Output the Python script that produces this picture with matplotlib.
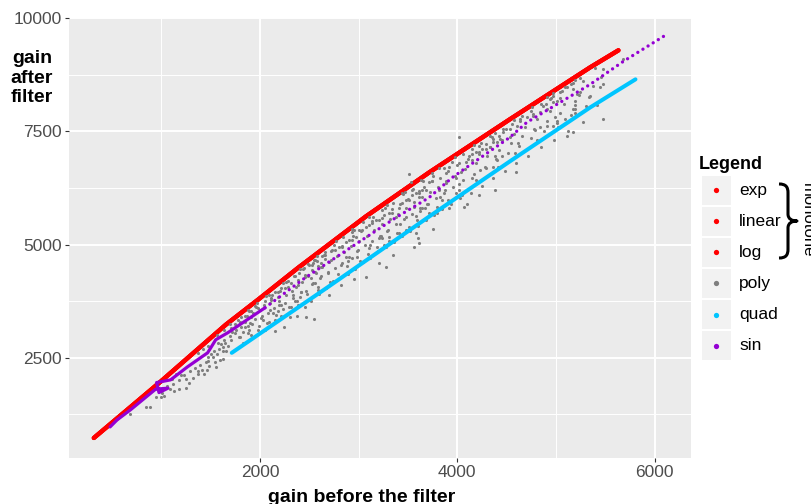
import matplotlib
matplotlib.use("Agg")
import matplotlib.pyplot as plt
from matplotlib.path import Path
from matplotlib.patches import PathPatch, Rectangle

plt.rcParams["font.family"] = ["Liberation Sans", "DejaVu Sans"]

# ---- data -------------------------------------------------------------
series_names = ["exp", "linear", "log", "poly", "quad", "sin"]
series_colors = ["#FF0000", "#FF0000", "#FF0000", "#7F7F7F", "#00C5FF", "#9400D3"]

mono_x = [316, 990, 1653, 1980, 2388, 3071, 3714, 4531, 5347, 5633]
exp_y = [730, 1969, 3230, 3783, 4490, 5618, 6592, 7764, 8914, 9290]
linear_y = [730, 1969, 3230, 3783, 4490, 5618, 6592, 7764, 8914, 9290]
log_y = [730, 1969, 3230, 3783, 4490, 5618, 6592, 7764, 8914, 9290]

quad_x = [1714, 2694, 3714, 4531, 5347, 5806]
quad_y = [2610, 4070, 5618, 6835, 8029, 8649]

sin_x = [480, 551, 686, 942, 1068, 976, 952, 1094, 1265, 1469, 1520, 1551, 1673, 2051,
         2459, 3071, 3378, 3714, 3949, 4092, 4531, 4704, 5347, 5684, 6092]
sin_y = [973, 1128, 1349, 1807, 1829, 1732, 1953, 2013, 2300, 2610, 2787, 2898, 3053, 3605,
         4269, 5154, 5596, 6039, 6481, 6702, 7366, 7698, 8538, 9047, 9600]
sin_dense_until = 2051

poly_x = [684, 847, 888, 949, 1000, 1092, 1133, 1184, 1255, 1276, 1255, 1204, 1153, 1112,
          1367, 1367, 1429, 1459, 1469, 1541, 1551, 1592, 1622, 1622, 1653, 1622, 1469, 1520,
          1367, 1418, 1469, 1031,
          2490, 2541, 2622, 2571, 2520, 2459, 2388, 2418, 2337, 2286, 2214, 2184, 2112, 2102,
          2255, 2316, 2388, 2459, 2469, 2551, 2245, 1959, 1908, 1847, 1806, 1745, 1704, 1643,
          1571, 1878, 1827, 2031, 2051, 1980, 2153,
          1639, 1775, 1911, 2047, 2183, 2319, 2455, 2591, 1707, 1843, 1979, 2115, 2251, 2387,
          2523, 2659, 1877, 1911, 2217, 2183, 2557, 2591,
          3510, 3612, 3673, 3561, 3510, 3439, 3408, 3378, 3306, 3235, 3204, 3133, 3071, 3000,
          2969, 2929, 2898, 2827, 2765, 2724, 2663, 2622, 2561, 2867, 2980, 3102, 3204, 3276,
          3071, 3204, 3306, 3408, 3480, 3582, 3612, 3561, 3102, 3255,
          2523, 2727, 2931, 3135, 3339, 3543, 2625, 2829, 3033, 3237, 3441, 3645, 2897, 3237,
          3577,
          4020, 4327, 4398, 4296, 4224, 4122, 4092, 4041, 3990, 3918, 3888, 3816, 3745, 3714,
          3684, 3612, 3541, 3531, 3643, 3796, 3918, 3847, 4051, 4224, 4378, 4153, 4296, 4398,
          4020, 4071,
          3475, 3611, 3747, 3883, 4018, 4154, 4290, 4427,
          5173, 5276, 5245, 5112, 5041, 5010, 4939, 4867, 4837, 4765, 4704, 4633, 4602, 4531,
          4531, 4459, 4429, 4357, 4327, 4255, 4194, 4153, 4837, 5010, 5112, 5194, 4449, 4357,
          4223, 4359, 4495, 4631, 4767, 4903, 5039, 5175,
          5684, 5480, 5449, 5480, 5347, 5214, 5194, 5092, 4969, 4908, 4969, 4908, 5480, 5173,
          5092, 4969, 5173, 4908,
          1010, 1060, 1120, 1180, 1230, 1290, 1320, 1340, 1390, 1410, 1450, 1480, 1500, 1530,
          1560, 1580, 1600, 1640, 1680, 1700, 1720, 1760, 1790, 1800, 1850, 1870, 1900, 1930,
          1950, 1970, 2000, 2020, 2040, 2070, 2080, 2100, 2120, 2140, 2160, 2190, 2200, 2230,
          2260, 2280, 2300, 2320, 2340, 2350, 2370, 2400, 2410, 2430, 2450, 2470, 2490, 2500,
          2520, 2540, 2560, 2580, 2600, 2610, 2630, 2650, 2670, 2690, 2700, 2720, 2740, 2760,
          2780, 2800, 2820, 2830, 2850, 2870, 2890, 2900, 2920, 2940, 2960, 2980, 3000, 3020,
          3040, 3060, 3080, 3100, 3120, 3140, 3160, 3180, 3200, 3220, 3240, 3260, 3280, 3300,
          3320, 3340, 3360, 3380, 3400, 3420, 3440, 3460, 3480, 3500, 3520, 3540, 3560, 3580,
          3600, 3620, 3640, 3660, 3680, 3700, 3720, 3740, 3760, 3780, 3800, 3820, 3850, 3870,
          3890, 3910, 3940, 3960, 3980, 4000, 4030, 4060, 4080, 4110, 4140, 4170, 4190, 4220,
          4250, 4280, 4300, 4330, 4360, 4390, 4420, 4450, 4480, 4510, 4540, 4570, 4600, 4630,
          4660, 4690, 4720, 4750, 4780, 4810, 4850, 4880, 4910, 4940, 4980, 5010, 5040, 5080,
          5120, 5150, 5190, 5230, 5270, 5300, 5340, 5380, 5420, 5460,
          1750, 1950, 2150, 2350, 2550, 2750, 2950, 3150, 3350, 3550, 3750, 3950, 4150, 4350,
          4550, 4750, 4950, 5150, 1812, 1893, 2096, 2262, 2437, 2655, 2843, 3047, 3263, 3447,
          3652, 3861, 4057, 4243, 4462, 4658, 4849, 5063, 5247,
          1800, 1830, 1890, 1920, 1985, 2010, 2090, 2130, 2210, 2190, 2290, 2330, 2380, 2420,
          2480, 2530, 2590, 2620, 2710, 2690, 2790, 2820, 2880, 2930, 3010, 2990, 3090, 3120,
          3190, 3230, 3310, 3290, 3390, 3420, 3510, 3480, 3590, 3620, 3710, 3690, 3790, 3820,
          3910, 3880, 3990, 4020, 4190, 4230, 4410, 4380, 4590, 4620, 4810, 4790, 5020, 4990,
          5190,
          2150, 2380, 2700, 2950, 3350, 3750, 4100, 4600, 3600,
          1560, 1700, 1880, 2060, 2230, 2410, 2580, 2770, 2930, 3110, 3290, 3470, 3630, 3810,
          3980, 4170, 4380, 4570, 4760, 4970, 5190, 5400]
poly_y = [1261, 1416, 1416, 1637, 1637, 1814, 1770, 1814, 1836, 1947, 2035, 2124, 2146, 2035,
          2212, 2146, 2146, 2234, 2433, 2411, 2300, 2455, 2477, 2654, 2654, 2743, 2522, 2522,
          2600, 2690, 2760, 1659,
          4580, 4601, 4512, 4380, 4269, 4291, 4114, 3959, 3893, 4070, 4048, 3849, 3783, 3561,
          3716, 3628, 3672, 3628, 3406, 3362, 3185, 3628, 3406, 3296, 3185, 3053, 2898, 2831,
          2831, 3053, 2831, 3340, 3119, 3119, 3340,
          3119, 3340, 3524, 3745, 3944, 4152, 4336, 4535, 3157, 3413, 3599, 3820, 4041, 4225,
          4446, 4683, 3192, 3008, 3672, 3524, 4152, 4004,
          6548, 6149, 5817, 5840, 5995, 6149, 5817, 5618, 5707, 5773, 5552, 5486, 5397, 5331,
          5176, 5287, 5110, 4955, 4889, 4667, 4778, 4601, 4667, 4734, 4734, 4712, 4601, 4512,
          4291, 5154, 5176, 5264, 5331, 5264, 5043, 4955, 4933, 4999,
          4557, 4889, 5110, 5515, 5700, 6105, 4741, 4962, 5331, 5590, 5922, 6216, 4630, 5147,
          5625,
          7366, 7388, 7255, 7100, 7034, 6946, 6813, 6614, 6481, 6724, 6371, 6216, 6592, 6393,
          6216, 6061, 6216, 6393, 5817, 5707, 5817, 5995, 6105, 6105, 6216, 6481, 6702, 6879,
          6216, 5840,
          5995, 6178, 6399, 6585, 6806, 6990, 7211, 7395,
          8560, 8605, 8361, 8472, 8361, 8162, 8206, 8052, 7919, 7830, 7808, 7764, 7609, 7543,
          7366, 7477, 7321, 7255, 7145, 7100, 7034, 6879, 7587, 7720, 7388, 7985, 6946, 6724,
          7174, 7322, 7543, 7727, 7875, 8096, 8244, 8428,
          9091, 8870, 8472, 8538, 8273, 8317, 8162, 8472, 8273, 8250, 8140, 7985, 7764, 7985,
          7764, 7609, 7477, 7609,
          1720, 1880, 1930, 2010, 2120, 2200, 2050, 2280, 2350, 2230, 2400, 2310, 2590, 2650,
          2580, 2700, 2800, 2900, 2760, 2980, 3080, 3120, 2950, 3300, 3180, 3420, 3260, 3500,
          3360, 3700, 3550, 3420, 3660, 3270, 3500, 3720, 3880, 3610, 3450, 3760, 3980, 3570,
          3880, 4200, 3400, 3980, 4310, 3760, 4060, 4380, 3850, 4180, 4480, 3980, 4300, 4560,
          3760, 4150, 4400, 4640, 3900, 4260, 4500, 4760, 4050, 4380, 4620, 4860, 4200, 4480,
          4740, 4950, 4100, 4600, 4830, 5060, 4350, 4720, 4960, 5180, 4450, 4850, 5080, 5300,
          4620, 4980, 5200, 5440, 4700, 5080, 5330, 5540, 4850, 5200, 5450, 5660, 4950, 5330,
          5560, 5780, 5050, 5450, 5680, 5900, 5180, 5560, 5800, 6010, 5300, 5680, 5930, 6140,
          5420, 5800, 6040, 6280, 5550, 5900, 6160, 6400, 5650, 6020, 6280, 6480, 5780, 6150,
          6400, 6620, 5900, 6280, 6520, 6750, 6020, 6420, 6660, 6880, 6150, 6560, 6800, 7000,
          6300, 6720, 6950, 7150, 6480, 6880, 7080, 7300, 6620, 7020, 7240, 7450, 6800, 7180,
          7400, 7600, 6950, 7350, 7560, 7780, 7150, 7500, 7720, 7950, 7300, 7680, 7900, 8100,
          7500, 7860, 8080, 8300, 7700, 8050, 8260, 8500, 8080, 8700,
          3250, 3640, 3960, 4300, 4650, 4980, 5320, 5620, 5920, 6230, 6520, 6830, 7100, 7380,
          7660, 7950, 8240, 8540, 3390, 3530, 3890, 4170, 4470, 4840, 5170, 5500, 5800, 6110,
          6400, 6700, 6990, 7250, 7560, 7850, 8110, 8400, 8680,
          2950, 3060, 3110, 3250, 3200, 3380, 3300, 3500, 3420, 3660, 3620, 3810, 3750, 3950,
          3900, 4120, 4060, 4300, 4180, 4400, 4350, 4560, 4520, 4700, 4640, 4880, 4800, 5000,
          4950, 5180, 5090, 5300, 5250, 5450, 5380, 5600, 5550, 5750, 5690, 5900, 5840, 6050,
          5990, 6200, 6150, 6330, 6420, 6650, 6720, 6950, 7030, 7250, 7310, 7520, 7600, 7820,
          7900,
          3100, 3420, 3880, 4250, 4780, 5350, 5900, 6600, 5150,
          3000, 3240, 3560, 3860, 4150, 4470, 4740, 5080, 5340, 5610, 5880, 6160, 6420, 6690,
          6930, 7200, 7460, 7760, 8030, 8350, 8640, 8900]

x_major = [2000, 4000, 6000]
x_minor = [1000, 3000, 5000]
y_major = [2500, 5000, 7500, 10000]
y_minor = [1250, 3750, 6250, 8750]

# ---- figure -----------------------------------------------------------
W, H = 811, 504
fig = plt.figure(figsize=(W / 100, H / 100), dpi=100)
ax = fig.add_axes([69 / W, (H - 458) / H, (691 - 69) / W, (458 - 18) / H])
ax.set_facecolor("#EBEBEB")
ax.set_xlim(64, 6369)
ax.set_ylim(287, 10004)
ax.set_xticks(x_major)
ax.set_xticks(x_minor, minor=True)
ax.set_yticks(y_major)
ax.set_yticks(y_minor, minor=True)
ax.grid(which="major", color="white", lw=1.4)
ax.grid(which="minor", color="white", lw=0.7)
ax.set_axisbelow(True)
for s in ax.spines.values():
    s.set_visible(False)
ax.tick_params(which="major", length=2.6, width=0.8, color="#333333",
               labelcolor="#4D4D4D", labelsize=12.5, pad=2.5)
ax.tick_params(which="minor", length=0)

red = series_colors[0]
for ys in (exp_y, linear_y, log_y):
    ax.plot(mono_x, ys, color=red, lw=3.1, solid_capstyle="round", solid_joinstyle="round", zorder=3)
ax.scatter(poly_x, poly_y, s=5, color=series_colors[3], linewidths=0, zorder=4)
ax.plot(quad_x, quad_y, color=series_colors[4], lw=2.9, solid_capstyle="round",
        solid_joinstyle="round", zorder=5)

k = sin_x.index(sin_dense_until) + 1
ax.plot(sin_x[k - 1:], sin_y[k - 1:], color=series_colors[5], lw=2.4,
        linestyle=(0, (0.01, 1.8)), dash_capstyle="round", zorder=6)
ax.plot(sin_x[:k], sin_y[:k], color=series_colors[5], lw=2.3,
        solid_capstyle="round", solid_joinstyle="round", zorder=6)

# ---- annotation layer in pixel units -----------------------------------
ov = fig.add_axes([0, 0, 1, 1], zorder=5)
ov.set_xlim(0, W)
ov.set_ylim(H, 0)
ov.axis("off")

ov.text(361.5, 502.5, "gain before the filter", ha="center", va="baseline",
        fontsize=14, fontweight="bold")
for txt, yb in zip(["gain", "after", "filter"], [63.3, 82.7, 101.7]):
    ov.text(32, yb, txt, ha="center", va="baseline", fontsize=14, fontweight="bold")

ov.text(699, 169, "Legend", ha="left", va="baseline", fontsize=13, fontweight="bold")
for i, (name, col) in enumerate(zip(series_names, series_colors)):
    cy = 190.1 + 31.1 * i
    ov.add_patch(Rectangle((701.5, cy - 14.6), 29.2, 29.2, color="#F2F2F2", lw=0))
    ov.plot([716], [cy], "o", ms=3.8, color=col, mec="none")
    ov.text(739, cy, name, ha="left", va="center", fontsize=12.5)

verts = [(779, 184), (786, 184), (788, 187), (788, 193),
         (788, 214),
         (788, 219), (792, 221), (797, 221),
         (792, 221), (788, 223), (788, 228),
         (788, 249),
         (788, 255), (786, 258), (779, 258)]
codes = [Path.MOVETO, Path.CURVE4, Path.CURVE4, Path.CURVE4,
         Path.LINETO,
         Path.CURVE4, Path.CURVE4, Path.CURVE4,
         Path.CURVE4, Path.CURVE4, Path.CURVE4,
         Path.LINETO,
         Path.CURVE4, Path.CURVE4, Path.CURVE4]
ov.add_patch(PathPatch(Path(verts, codes), fill=False, lw=2.2, color="black",
                       capstyle="butt", joinstyle="round"))
ov.text(800, 220, "monotone", rotation=-90, ha="left", va="center", fontsize=12)

fig.savefig("out.png", dpi=100)
